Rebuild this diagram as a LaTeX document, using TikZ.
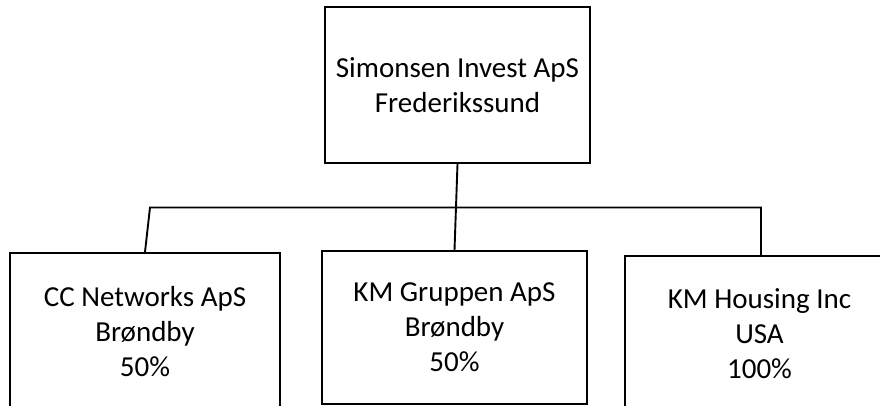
\documentclass[tikz,border=0pt]{standalone}
\usepackage{fontspec}
\setmainfont{Carlito}
\begin{document}
\begin{tikzpicture}[x=1pt,y=-1pt,
  orgbox/.style={draw=black, line width=1.9pt, fill=white, align=center, inner sep=0pt,
    font=\fontsize{29}{35}\selectfont},
  conn/.style={draw=black, line width=1.9pt}]
\fill[white] (0,0) rectangle (880,406);
\path[use as bounding box, clip] (0,0) rectangle (880,406);
% boxes
\node[orgbox, minimum width=265pt, minimum height=156pt] (top) at (457.5,85)
  {Simonsen Invest ApS\\Frederikssund};
\node[orgbox, minimum width=270pt, minimum height=158pt] (cc) at (145,332)
  {CC Networks ApS\\Brøndby\\50\%};
\node[orgbox, minimum width=265pt, minimum height=153pt] (km) at (454.5,327.5)
  {KM Gruppen ApS\\Brøndby\\50\%};
\node[orgbox, minimum width=269pt, minimum height=156pt] (kmh) at (759.5,334)
  {KM Housing Inc\\USA\\100\%};
% connectors
\coordinate (hl) at (150,207.5);
\coordinate (hr) at (761,207.5);
\draw[conn] (top.south) -- (km.north);
\draw[conn] (cc.north) -- (hl) -- (hr) -- (hr |- kmh.north);
\end{tikzpicture}
\end{document}
